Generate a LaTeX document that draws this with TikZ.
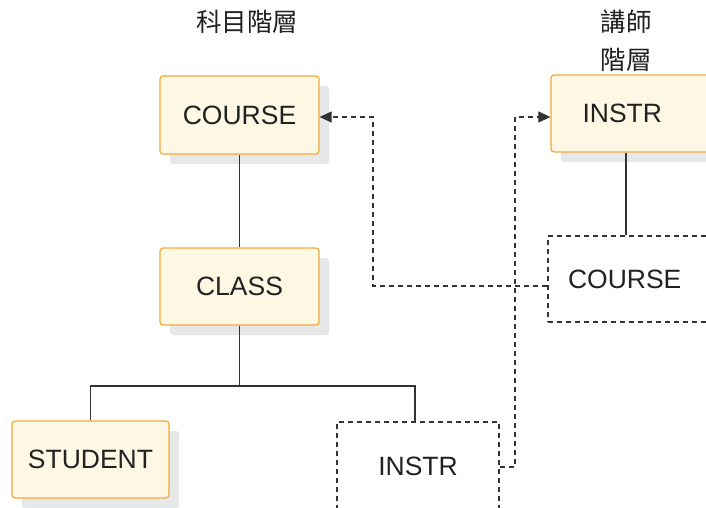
\documentclass[tikz,border=0pt]{standalone}
\usepackage{fontspec}
\setmainfont{Liberation Sans}
\newfontfamily\cjk{Noto Sans CJK TC}
\usetikzlibrary{shadows,arrows.meta}
\definecolor{boxfill}{HTML}{FDF7E4}
\definecolor{boxline}{HTML}{F2A93B}
\definecolor{shadowgray}{HTML}{E6E7E9}
\definecolor{linegray}{HTML}{333333}
\definecolor{txt}{HTML}{222222}
\tikzset{
  segbox/.style={draw=boxline, fill=boxfill, line width=1.2pt, rounded corners=3pt,
    text=txt, font=\fontsize{26.5}{30}\selectfont,
    copy shadow={shadow xshift=10pt, shadow yshift=-10pt, fill=shadowgray, draw=none}},
  ptrbox/.style={draw=linegray, line width=1.1pt, dash pattern=on 5pt off 4pt,
    text=txt, font=\fontsize{26.5}{30}\selectfont},
  tree/.style={draw=linegray, line width=1.1pt},
  ptr/.style={draw=linegray, line width=1.1pt, dash pattern=on 5pt off 4pt,
    -{Triangle[length=12pt,width=11pt]}},
  title/.style={text=txt, font=\cjk\fontsize{25.5}{38}\selectfont, align=center}
}
\begin{document}
\begin{tikzpicture}[x=1pt,y=-1pt]
\useasboundingbox (0,0) rectangle (706,508);
\clip (0,0) rectangle (706,508);
\fill[white] (0,0) rectangle (706,508);
% titles
\node[title] (t1) at (247,22) {科目階層};
\node[title] (t2) at (626,41) {講師\\階層};
% segments
\node[segbox, minimum width=159pt, minimum height=78pt] (course) at (239.5,115) {COURSE};
\node[segbox, minimum width=159pt, minimum height=77pt] (class) at (239.5,286.5) {CLASS};
\node[segbox, minimum width=157pt, minimum height=77pt] (student) at (90.5,459.5) {STUDENT};
\node[ptrbox, minimum width=162pt, minimum height=88pt] (instrL) at (418,466) {INSTR};
\node[segbox, minimum width=159pt, minimum height=77pt, text width=140pt, align=left] (instrR) at (630.5,113.5) {\hspace*{22pt}INSTR};
\node[ptrbox, minimum width=162pt, minimum height=86pt, text width=146pt, align=left] (courseR) at (629,279) {\hspace*{12pt}COURSE};
% tree connectors
\coordinate (jn) at (239.5,386);
\draw[tree] (class.south) -- (jn);
\draw[tree] (student.north) |- (jn) -| (415,422);
\draw[tree] (course.south) -- (class.north);
\draw[tree] (instrR.south -| 626,0) -- (courseR.north -| 626,0);
% pointer connectors
\draw[ptr] (instrL.east |- 0,467) -| (515,117) -- (instrR.west |- 0,117);
\draw[ptr] (courseR.west |- 0,286) -| (373,117) -- (course.east |- 0,117);
\end{tikzpicture}
\end{document}
